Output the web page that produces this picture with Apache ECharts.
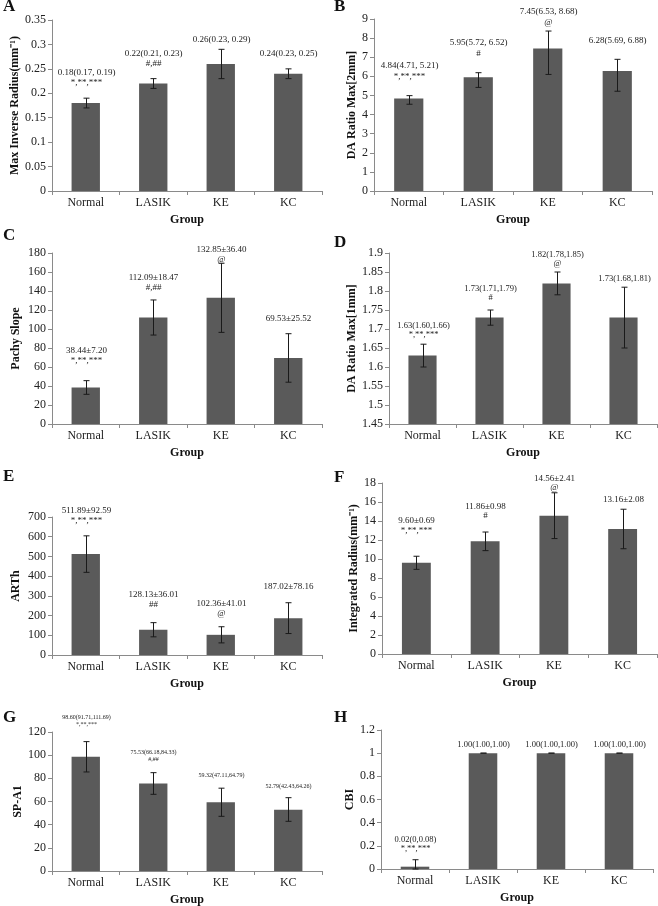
<!DOCTYPE html>
<html><head><meta charset="utf-8">
<script src="https://cdn.jsdelivr.net/npm/echarts@6.0.0/dist/echarts.min.js"></script>
<style>html,body{margin:0;padding:0;background:#fff}#c{width:658px;height:906px}</style>
</head><body><div id="c"></div>
<script>
// ---------- DATA ----------
const groups = ['Normal', 'LASIK', 'KE', 'KC'];

const aMean = [0.18, 0.22, 0.26, 0.24];
const aLow  = [0.17, 0.21, 0.23, 0.23];
const aHigh = [0.19, 0.23, 0.29, 0.25];
const aText = ['0.18(0.17, 0.19)', '0.22(0.21, 0.23)', '0.26(0.23, 0.29)', '0.24(0.23, 0.25)'];
const aSig  = ['*,**,***', '#,##', '', ''];

const bMean = [4.84, 5.95, 7.45, 6.28];
const bLow  = [4.54, 5.42, 6.10, 5.22];
const bHigh = [4.99, 6.19, 8.37, 6.89];
const bText = ['4.84(4.71, 5.21)', '5.95(5.72, 6.52)', '7.45(6.53, 8.68)', '6.28(5.69, 6.88)'];
const bSig  = ['*,**,***', '#', '@', ''];

const cMean = [38.44, 112.09, 132.85, 69.53];
const cSD   = [7.20, 18.47, 36.40, 25.52];
const cText = ['38.44±7.20', '112.09±18.47', '132.85±36.40', '69.53±25.52'];
const cSig  = ['*,**,***', '#,##', '@', ''];

const dMean = [1.63, 1.73, 1.82, 1.73];
const dLow  = [1.60, 1.71, 1.79, 1.65];
const dHigh = [1.66, 1.75, 1.85, 1.81];
const dText = ['1.63(1.60,1.66)', '1.73(1.71,1.79)', '1.82(1.78,1.85)', '1.73(1.68,1.81)'];
const dSig  = ['*,**,***', '#', '@', ''];

const eMean = [511.89, 128.13, 102.36, 187.02];
const eSD   = [92.59, 36.01, 41.01, 78.16];
const eText = ['511.89±92.59', '128.13±36.01', '102.36±41.01', '187.02±78.16'];
const eSig  = ['*,**,***', '##', '@', ''];

const fMean = [9.60, 11.86, 14.56, 13.16];
const fSD   = [0.69, 0.98, 2.41, 2.08];
const fText = ['9.60±0.69', '11.86±0.98', '14.56±2.41', '13.16±2.08'];
const fSig  = ['*,**,***', '#', '@', ''];

const gMean = [98.60, 75.53, 59.32, 52.79];
const gLow  = [85.5, 66.2, 47.2, 42.9];
const gHigh = [111.7, 84.9, 71.5, 63.3];
const gText = ['98.60(91.71,111.69)', '75.53(66.18,84.33)', '59.32(47.11,64.79)', '52.79(42.43,64.26)'];
const gSig  = ['*,**,***', '#,##', '', ''];

const hMean = [0.02, 1.00, 1.00, 1.00];
const hLow  = [0, 1.00, 1.00, 1.00];
const hHigh = [0.08, 1.00, 1.00, 1.00];
const hText = ['0.02(0,0.08)', '1.00(1.00,1.00)', '1.00(1.00,1.00)', '1.00(1.00,1.00)'];
const hSig  = ['*,**,***', '', '', ''];

// y-axis scales
const yMins = [0, 0, 0, 1.45, 0, 0, 0, 0];
const yMaxs = [0.35, 9, 180, 1.9, 700, 18, 120, 1.2];
const yIntervals = [0.05, 1, 20, 0.05, 100, 2, 20, 0.2];
const yNames = ['Max Inverse Radius(mm\u207B\u00B9)', 'DA Ratio Max[2mm]', 'Pachy Slope', 'DA Ratio Max[1mm]',
                'ARTh', 'Integrated Radius(mm\u207B\u00B9)', 'SP-A1', 'CBI'];
const letters = ['A', 'B', 'C', 'D', 'E', 'F', 'G', 'H'];

// ---------- LAYOUT / STYLE ----------
const FONT = '"Liberation Serif", "Times New Roman", serif';
const layout = [
  {grid: {left: 52, top: 20, width: 270, height: 171}, letter: [3, 7], gaps: [16, 15, 10, 15], fs: 9, lh: 9.5, nameGap: 30},
  {grid: {left: 374, top: 19, width: 278, height: 172}, letter: [334, 7], gaps: [19, 19, 8, 19], fs: 9, lh: 11, nameGap: 16},
  {grid: {left: 52, top: 253, width: 270, height: 171}, letter: [3, 236], gaps: [20, 12, 4, 15], fs: 9, lh: 10, nameGap: 30},
  {grid: {left: 389, top: 253, width: 268, height: 171}, letter: [334, 243], gaps: [9, 12, 8, 8], fs: 8.5, lh: 9, nameGap: 28},
  {grid: {left: 52, top: 517, width: 270, height: 138}, letter: [3, 477], gaps: [15, 18, 13, 16], fs: 9, lh: 10, nameGap: 30},
  {grid: {left: 382, top: 483, width: 275, height: 171}, letter: [334, 478], gaps: [26, 16, 5, 10], fs: 9, lh: 9.5, nameGap: 20},
  {grid: {left: 52, top: 732, width: 270, height: 139}, letter: [3, 718], gaps: [17, 13, 13, 11], fs: 6, lh: 7, nameGap: 28},
  {grid: {left: 381, top: 730, width: 272, height: 139}, letter: [334, 718], gaps: [11, 8, 8, 8], fs: 8.5, lh: 9, nameGap: 22}
];

const sdLow = (m, s) => m.map((v, i) => +(v - s[i]).toFixed(4));
const sdHigh = (m, s) => m.map((v, i) => +(v + s[i]).toFixed(4));

const panels = [
  {mean: aMean, low: aLow, high: aHigh, text: aText, sig: aSig},
  {mean: bMean, low: bLow, high: bHigh, text: bText, sig: bSig},
  {mean: cMean, low: sdLow(cMean, cSD), high: sdHigh(cMean, cSD), text: cText, sig: cSig},
  {mean: dMean, low: dLow, high: dHigh, text: dText, sig: dSig},
  {mean: eMean, low: sdLow(eMean, eSD), high: sdHigh(eMean, eSD), text: eText, sig: eSig},
  {mean: fMean, low: sdLow(fMean, fSD), high: sdHigh(fMean, fSD), text: fText, sig: fSig},
  {mean: gMean, low: gLow, high: gHigh, text: gText, sig: gSig},
  {mean: hMean, low: hLow, high: hHigh, text: hText, sig: hSig}
];

const AXIS_COLOR = '#8a8a8a';
const BAR_COLOR = '#5a5a5a';
const ERR_COLOR = '#1a1a1a';

const grids = [], xAxes = [], yAxes = [], series = [], graphics = [];

panels.forEach((p, k) => {
  const L = layout[k];
  grids.push(Object.assign({outerBoundsMode: 'none', containLabel: false}, L.grid));
  xAxes.push({
    type: 'category', gridIndex: k, data: groups,
    name: 'Group', nameLocation: 'middle', nameGap: 23,
    nameTextStyle: {fontFamily: FONT, fontWeight: 'bold', fontSize: 12, color: '#111'},
    axisLine: {lineStyle: {color: AXIS_COLOR, width: 1}},
    axisTick: {show: true, length: 4, lineStyle: {color: AXIS_COLOR}},
    axisLabel: {fontFamily: FONT, fontSize: 12, color: '#222', margin: 6},
    splitLine: {show: false}
  });
  yAxes.push({
    type: 'value', gridIndex: k, min: yMins[k], max: yMaxs[k], interval: yIntervals[k],
    name: yNames[k], nameLocation: 'middle', nameGap: L.nameGap, nameRotate: 90,
    nameTextStyle: {fontFamily: FONT, fontWeight: 'bold', fontSize: 12, color: '#111'},
    axisLine: {show: true, lineStyle: {color: AXIS_COLOR, width: 1}},
    axisTick: {show: true, length: 4, lineStyle: {color: AXIS_COLOR}},
    axisLabel: {fontFamily: FONT, fontSize: 12, color: '#222', margin: 6},
    splitLine: {show: false}
  });
  series.push({
    type: 'bar', xAxisIndex: k, yAxisIndex: k, data: p.mean, barWidth: '42%',
    itemStyle: {color: BAR_COLOR}, silent: true, animation: false
  });
  series.push({
    type: 'custom', xAxisIndex: k, yAxisIndex: k, z: 5, animation: false, silent: true, clip: false,
    data: groups.map((g, i) => [i, p.low[i], p.high[i]]),
    encode: {x: 0, y: [1, 2]},
    renderItem: function (params, api) {
      const i = api.value(0);
      const lo = api.coord([i, api.value(1)]);
      const hi = api.coord([i, api.value(2)]);
      const x = Math.round(lo[0]) + 0.5;
      const cap = 3;
      const st = {stroke: ERR_COLOR, lineWidth: 1};
      const ch = [
        {type: 'line', shape: {x1: x, y1: lo[1], x2: x, y2: hi[1]}, style: st},
        {type: 'line', shape: {x1: x - cap, y1: hi[1], x2: x + cap, y2: hi[1]}, style: st},
        {type: 'line', shape: {x1: x - cap, y1: lo[1], x2: x + cap, y2: lo[1]}, style: st}
      ];
      let y = hi[1] - L.gaps[i];
      const mk = (t, yy) => ({type: 'text', x: x, y: yy, style: {
        text: t, align: 'center', verticalAlign: 'middle',
        font: L.fs + 'px ' + FONT, fill: '#222'}});
      if (p.sig[i]) { ch.push(mk(p.sig[i], y)); y -= L.lh; }
      ch.push(mk(p.text[i], y));
      return {type: 'group', children: ch};
    }
  });
  graphics.push({
    type: 'text', left: L.letter[0], top: L.letter[1] - 9,
    style: {text: letters[k], font: 'bold 17px ' + FONT, fill: '#111'}
  });
});

const chart = echarts.init(document.getElementById('c'), null, {renderer: 'canvas'});
chart.setOption({
  animation: false,
  backgroundColor: '#fff',
  grid: grids, xAxis: xAxes, yAxis: yAxes, series: series, graphic: graphics
});
</script></body></html>
